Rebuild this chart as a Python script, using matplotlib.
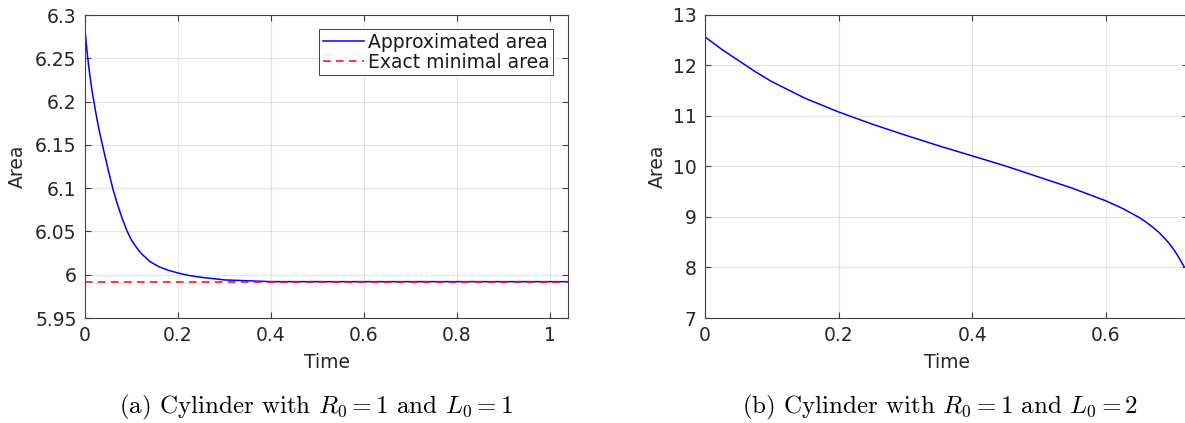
import numpy as np
import matplotlib
matplotlib.use('Agg')
import matplotlib.pyplot as plt

plt.rcParams["font.family"] = ["DejaVu Sans"]
plt.rcParams["mathtext.fontset"] = "cm"

# panel (a): R0 = 1, L0 = 1
time_a = [0, 0.0025, 0.005, 0.0075, 0.01, 0.015, 0.02, 0.025, 0.03, 0.035, 0.04,
          0.05, 0.06, 0.07, 0.08, 0.09, 0.1, 0.11, 0.12, 0.14, 0.16, 0.18, 0.2,
          0.225, 0.25, 0.3, 0.35, 0.4, 0.5, 0.6, 0.8, 1.04]
area_a = [6.283, 6.268, 6.255, 6.243, 6.232, 6.213, 6.197, 6.182, 6.168, 6.156,
          6.144, 6.121, 6.099, 6.081, 6.065, 6.051, 6.040, 6.032, 6.025, 6.015,
          6.009, 6.005, 6.002, 5.999, 5.997, 5.994, 5.993, 5.992, 5.992, 5.992,
          5.992, 5.992]
exact_area_a = 5.9918

# panel (b): R0 = 1, L0 = 2
time_b = [0, 0.025, 0.05, 0.075, 0.1, 0.15, 0.2, 0.25, 0.3, 0.35, 0.4, 0.45,
          0.5, 0.55, 0.6, 0.625, 0.65, 0.66, 0.67, 0.68, 0.69, 0.697, 0.704,
          0.71, 0.714, 0.717]
area_b = [12.566, 12.32, 12.10, 11.88, 11.68, 11.35, 11.08, 10.84, 10.62, 10.41,
          10.21, 10.01, 9.79, 9.57, 9.32, 9.17, 8.99, 8.90, 8.80, 8.69, 8.55,
          8.44, 8.31, 8.18, 8.09, 8.02]

captions = [r"(a) Cylinder with $R_0 = 1$ and $L_0 = 1$",
            r"(b) Cylinder with $R_0 = 1$ and $L_0 = 2$"]

W, H = 1185, 423
fig = plt.figure(figsize=(W / 100, H / 100), dpi=100)

axc = '0.25'
fs = 13.5


def style(ax):
    ax.tick_params(direction='in', length=4, width=0.8, top=True, right=True,
                   labelsize=fs, colors=axc, labelcolor='0.15', pad=6)
    for s in ax.spines.values():
        s.set_color(axc)
        s.set_linewidth(0.8)
    ax.grid(True, color='0.15', alpha=0.12, linewidth=0.8)
    ax.set_xlabel('Time', fontsize=fs, color='0.15')
    ax.set_ylabel('Area', fontsize=fs, color='0.15')


def fmt(v, pos):
    return ('%g' % round(v, 4))


ax1 = fig.add_axes([85 / W, (H - 318) / H, 483 / W, 303 / H])
ax1.plot(time_a, area_a, color='b', lw=1.1, label='Approximated area')
ax1.axhline(exact_area_a, color='r', ls=(0, (5, 3.5)), lw=1.1, label='Exact minimal area')
ax1.set_xlim(0, 1.039)
ax1.set_ylim(5.95, 6.3)
ax1.set_xticks([0, 0.2, 0.4, 0.6, 0.8, 1])
ax1.set_yticks(np.arange(5.95, 6.3001, 0.05))
ax1.xaxis.set_major_formatter(plt.FuncFormatter(fmt))
ax1.yaxis.set_major_formatter(plt.FuncFormatter(fmt))
style(ax1)
ax1.xaxis.set_label_coords(0.5, -0.115)
ax1.yaxis.set_label_coords(-0.12, 0.5)
leg = ax1.legend(loc='upper right', bbox_to_anchor=(0.969, 0.954), borderaxespad=0,
                 fontsize=fs, fancybox=False, framealpha=1, edgecolor='0.15',
                 handlelength=2.2, handletextpad=0.2, labelspacing=0.05,
                 borderpad=0.2)
leg.get_frame().set_linewidth(0.6)
for t in leg.get_texts():
    t.set_color('0.1')

ax2 = fig.add_axes([705 / W, (H - 318) / H, 483 / W, 303 / H])
ax2.plot(time_b, area_b, color='b', lw=1.1)
ax2.set_xlim(0, 0.723)
ax2.set_ylim(7, 13)
ax2.set_xticks([0, 0.2, 0.4, 0.6])
ax2.set_yticks(range(7, 14))
ax2.xaxis.set_major_formatter(plt.FuncFormatter(fmt))
style(ax2)
ax2.xaxis.set_label_coords(0.5, -0.115)
ax2.yaxis.set_label_coords(-0.08, 0.5)

for cx, cap in zip([316, 940], captions):
    fig.text(cx / W, (H - 407) / H, cap, ha='center', va='center',
             fontsize=18, family='cmr10')

fig.savefig('out.png', dpi=100)
